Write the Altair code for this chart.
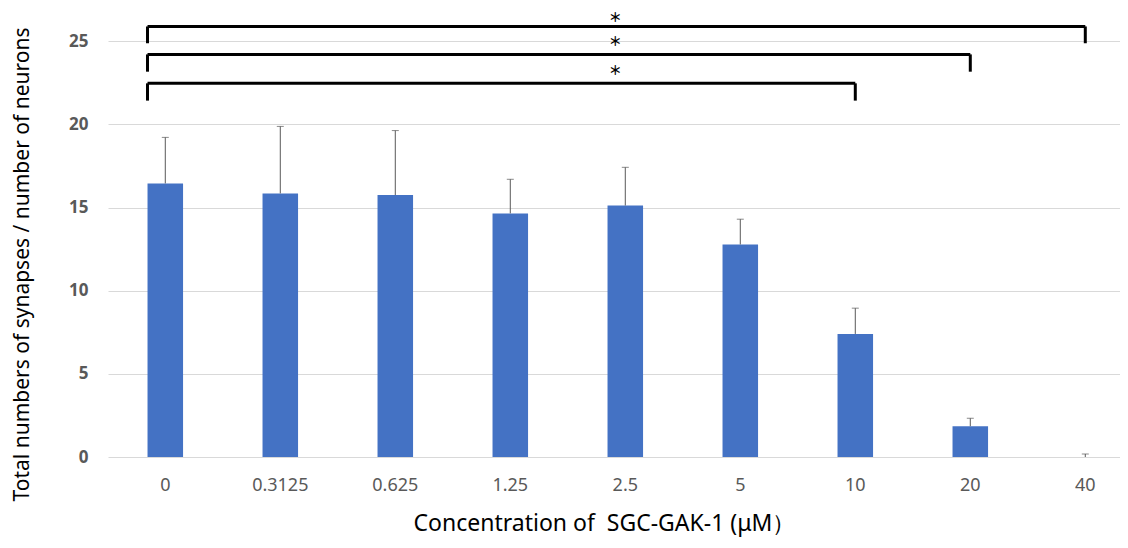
import altair as alt
import pandas as pd

categories = ["0", "0.3125", "0.625", "1.25", "2.5", "5", "10", "20", "40"]
means = [16.45, 15.85, 15.75, 14.65, 15.12, 12.78, 7.40, 1.85, 0.0]
errors = [2.77, 4.03, 3.88, 2.05, 2.30, 1.52, 1.55, 0.48, 0.18]

bracket_targets = ["10", "20", "40"]
bracket_tops = [22.47, 24.21, 25.89]
bracket_bottoms = [21.43, 23.17, 24.88]
star_levels = [23.2, 24.96, 26.42]

bars_df = pd.DataFrame({"conc": categories, "mean": means, "err": errors})
bars_df["upper"] = bars_df["mean"] + bars_df["err"]

br_df = pd.DataFrame({
    "start": ["0"] * 3,
    "target": bracket_targets,
    "top": bracket_tops,
    "bottom": bracket_bottoms,
    "star": star_levels,
    "star_cat": ["2.5"] * 3,
    "label": ["＊"] * 3,
})

FONT = "Noto Sans"

xscale = alt.Scale(domain=categories, paddingInner=0.691, paddingOuter=0.2455, align=0.70)
yscale = alt.Scale(domain=[0, 27], nice=False, zero=True)

x_axis = alt.Axis(
    title="Concentration of\u00a0 SGC-GAK-1 (μM）",
    labelAngle=0, labelFont=FONT, labelFontSize=18, labelColor="#595959",
    labelPadding=19, ticks=False, domain=False,
    titleFont=FONT, titleFontSize=23, titleFontWeight="normal", titleColor="#000000",
    titleX=496, titleY=66, titleBaseline="middle", titleAlign="center",
)
y_axis = alt.Axis(
    title="Total numbers of synapses / number of neurons",
    values=[0, 5, 10, 15, 20, 25], labelFont=FONT, labelFontSize=17,
    labelFontWeight="bold", labelColor="#595959", labelPadding=20,
    ticks=False, domain=False, grid=True, gridColor="#d9d9d9", gridWidth=1,
    titleFont=FONT, titleFontSize=21, titleFontWeight="normal", titleColor="#000000",
    titleX=-86, titleY=256, titleBaseline="middle", titleAlign="center", titleAngle=-90,
)

base = alt.Chart(bars_df)

bars = base.mark_bar(color="#4472C4").encode(
    x=alt.X("conc:N", scale=xscale, axis=x_axis, sort=categories),
    y=alt.Y("mean:Q", scale=yscale, axis=y_axis),
)

err_rule = base.mark_rule(color="#595959", strokeWidth=1).encode(
    x=alt.X("conc:N", scale=xscale, sort=categories),
    y=alt.Y("mean:Q", scale=yscale),
    y2="upper:Q",
)
err_cap = base.mark_tick(color="#595959", thickness=1, size=7).encode(
    x=alt.X("conc:N", scale=xscale, sort=categories),
    y=alt.Y("upper:Q", scale=yscale),
)

br = alt.Chart(br_df)
h_rule = br.mark_rule(color="#000000", strokeWidth=3).encode(
    x=alt.X("start:N", scale=xscale, bandPosition=0),
    x2=alt.X2("target:N", bandPosition=0.5),
    y=alt.Y("top:Q", scale=yscale),
)
left_rule = br.mark_rule(color="#000000", strokeWidth=3).encode(
    x=alt.X("start:N", scale=xscale, bandPosition=0),
    y=alt.Y("top:Q", scale=yscale),
    y2="bottom:Q",
)
right_rule = br.mark_rule(color="#000000", strokeWidth=3).encode(
    x=alt.X("target:N", scale=xscale, bandPosition=0.5),
    y=alt.Y("top:Q", scale=yscale),
    y2="bottom:Q",
)
stars = br.mark_text(font="Noto Sans CJK JP", fontSize=13, fontWeight="bold", color="#000000",
                     baseline="middle", align="center", dx=-10).encode(
    x=alt.X("star_cat:N", scale=xscale),
    y=alt.Y("star:Q", scale=yscale),
    text="label:N",
)

chart = alt.layer(bars, err_rule, err_cap, h_rule, left_rule, right_rule, stars).properties(
    width=1012, height=449,
    autosize=alt.AutoSizeParams(type="none"),
    padding={"left": 100, "top": 0, "right": 0, "bottom": 83},
    background="white",
).configure_view(stroke=None)

chart.save("out.html", embed_options={"renderer": "svg", "actions": False})
